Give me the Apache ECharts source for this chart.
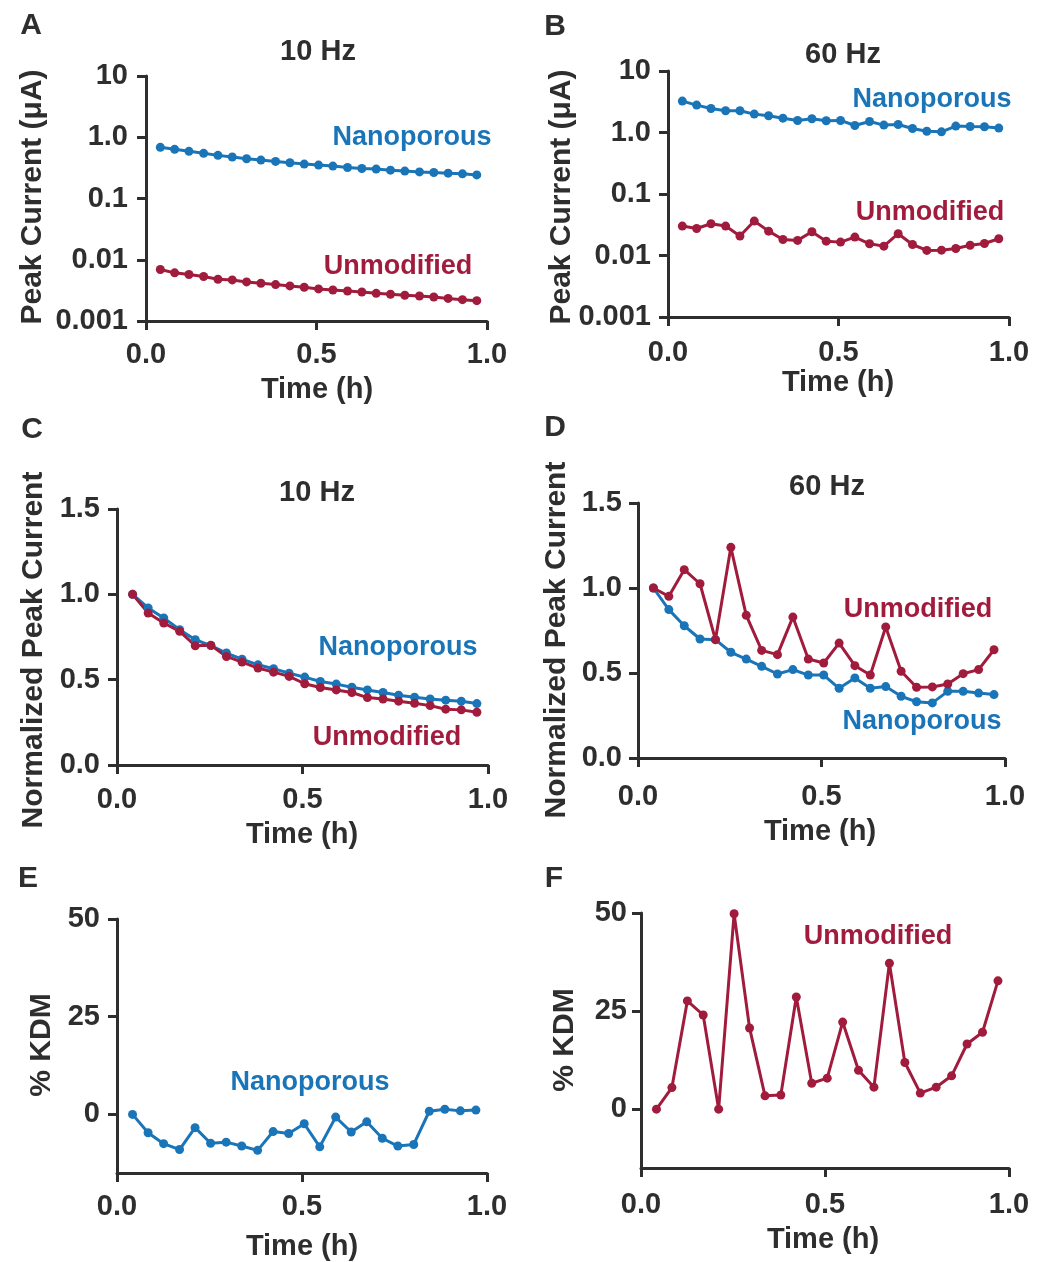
<!DOCTYPE html>
<html>
<head>
<meta charset="utf-8">
<script src="https://cdn.jsdelivr.net/npm/echarts@6/dist/echarts.min.js"></script>
<style>
html,body{margin:0;padding:0;background:#fff;}
#chart{width:1055px;height:1262px;}
</style>
</head>
<body>
<div id="chart"></div>
<script>
// ---- data ----
const time = [0.042,0.084,0.126,0.169,0.211,0.253,0.295,0.337,0.380,0.422,0.464,0.506,0.548,0.591,0.633,0.675,0.717,0.759,0.802,0.844,0.886,0.928,0.970];
const aNano  = [0.685,0.635,0.589,0.546,0.506,0.475,0.446,0.424,0.403,0.383,0.365,0.351,0.338,0.321,0.309,0.302,0.290,0.280,0.272,0.266,0.259,0.253,0.243];
const aUnmod = [0.00694,0.00611,0.00574,0.00532,0.00481,0.00469,0.00435,0.00413,0.00393,0.00374,0.00356,0.00334,0.00321,0.00309,0.00298,0.00283,0.00273,0.00263,0.00256,0.00247,0.00234,0.00223,0.00215];
const bNano  = [3.24,2.79,2.46,2.26,2.26,1.99,1.87,1.71,1.57,1.67,1.55,1.57,1.30,1.51,1.32,1.35,1.16,1.05,1.025,1.27,1.25,1.24,1.18];
const bUnmod = [0.0301,0.0275,0.0328,0.0301,0.0207,0.0363,0.0249,0.0182,0.0176,0.0243,0.0171,0.0165,0.0199,0.0155,0.0142,0.0226,0.0151,0.0121,0.0122,0.0130,0.0147,0.0157,0.0187];
const cNano  = [1.0,0.920,0.861,0.793,0.734,0.700,0.656,0.620,0.587,0.564,0.538,0.515,0.489,0.474,0.456,0.440,0.425,0.409,0.397,0.387,0.380,0.374,0.360];
const cUnmod = [1.0,0.890,0.832,0.783,0.699,0.701,0.636,0.603,0.568,0.544,0.519,0.476,0.454,0.440,0.425,0.395,0.387,0.374,0.362,0.348,0.327,0.323,0.309];
const dNano  = [1.0,0.873,0.778,0.700,0.696,0.622,0.582,0.539,0.494,0.520,0.488,0.488,0.410,0.471,0.410,0.420,0.363,0.331,0.324,0.392,0.392,0.382,0.373];
const dUnmod = [1.000,0.951,1.108,1.025,0.696,1.239,0.839,0.633,0.608,0.829,0.582,0.559,0.676,0.543,0.488,0.771,0.510,0.416,0.418,0.435,0.496,0.520,0.637];
const eNano  = [0,-4.7,-7.5,-9.0,-3.4,-7.4,-7.1,-8.1,-9.2,-4.4,-4.9,-2.4,-8.3,-0.7,-4.5,-1.9,-6.1,-8.1,-7.7,0.8,1.3,0.9,1.1];
const fUnmod = [0,5.5,27.6,24.0,0,49.8,20.7,3.4,3.6,28.6,6.6,7.9,22.2,9.9,5.6,37.2,11.9,4.1,5.6,8.5,16.6,19.6,32.7];

const logTickLabels = ['0.001','0.01','0.1','1.0','10'];
const kdmTicks = [0, 25, 50];

// ---- style ----
const BLUE = '#1a74b8';
const RED = '#a11b3d';
const INK = '#2e2e2e';
const FONT = '"Liberation Sans", Arial, Helvetica, sans-serif';

const grids = [
  {left:146, top:76,  width:341, height:245},  // A
  {left:668, top:71,  width:341, height:246},  // B
  {left:117, top:509, width:371, height:256},  // C
  {left:638, top:503, width:367, height:255},  // D
  {left:117, top:919, width:370, height:254},  // E
  {left:641, top:913, width:368, height:255}   // F
];
const xMargins = [19, 21, 20, 24, 19, 22];
const yMargins = [18, 17, 17, 16, 17, 14];

const axisLineStyle = {show:true, onZero:false, lineStyle:{color:INK, width:3}};
const axisTickStyle = {show:true, length:9, lineStyle:{color:INK, width:3}};
const labelStyle = {color:INK, fontSize:29, fontWeight:'bold', fontFamily:FONT};

const xAxes = grids.map((g,i)=>({
  type:'value', gridIndex:i, min:0, max:1, interval:0.5,
  axisLine:axisLineStyle, axisTick:axisTickStyle, splitLine:{show:false},
  axisLabel:Object.assign({margin:xMargins[i], formatter:v=>v.toFixed(1)}, labelStyle)
}));

function logLabel(v){
  const e = Math.round(Math.log10(v));
  return logTickLabels[e + 3];
}

const yAxes = [0,1,2,3,4,5].map(i=>{
  const base = {gridIndex:i, axisLine:axisLineStyle, axisTick:axisTickStyle, splitLine:{show:false}};
  if (i < 2) {
    return Object.assign(base, {type:'log', logBase:10, min:0.001, max:10,
      axisLabel:Object.assign({margin:yMargins[i], formatter:logLabel}, labelStyle)});
  } else if (i < 4) {
    return Object.assign(base, {type:'value', min:0, max:1.5, interval:0.5,
      axisLabel:Object.assign({margin:yMargins[i], formatter:v=>v.toFixed(1)}, labelStyle)});
  } else {
    return Object.assign(base, {type:'value', min:-15, max:50,
      axisTick:Object.assign({customValues:kdmTicks}, axisTickStyle),
      axisLabel:Object.assign({margin:yMargins[i], customValues:kdmTicks, formatter:v=>String(v)}, labelStyle)});
  }
});

function mk(idx, vals, color){
  return {
    type:'line', xAxisIndex:idx, yAxisIndex:idx,
    data: time.map((t,k)=>[t, vals[k]]),
    symbol:'circle', symbolSize:9, showSymbol:true,
    lineStyle:{color:color, width:3}, itemStyle:{color:color},
    emphasis:{disabled:true}, z:3
  };
}

const series = [
  mk(0, aNano, BLUE), mk(0, aUnmod, RED),
  mk(1, bNano, BLUE), mk(1, bUnmod, RED),
  mk(2, cNano, BLUE), mk(2, cUnmod, RED),
  mk(3, dNano, BLUE), mk(3, dUnmod, RED),
  mk(4, eNano, BLUE),
  mk(5, fUnmod, RED)
];

function txt(x, y, text, size, color, rot){
  return {type:'text', x:x, y:y, rotation:rot||0, silent:true,
    style:{text:text, fill:color, fontSize:size, fontWeight:'bold', fontFamily:FONT,
      align:'center', verticalAlign:'middle'}};
}
const R = Math.PI/2;
const graphics = [
  // panel letters
  txt(31, 26, 'A', 30, INK), txt(555, 27, 'B', 30, INK),
  txt(32, 430, 'C', 30, INK), txt(555, 428, 'D', 30, INK),
  txt(28, 879, 'E', 30, INK), txt(554, 879, 'F', 30, INK),
  // titles
  txt(318, 52, '10 Hz', 29, INK), txt(843, 55, '60 Hz', 29, INK),
  txt(317, 493, '10 Hz', 29, INK), txt(827, 487, '60 Hz', 29, INK),
  // y-axis names
  txt(33, 197, 'Peak Current (μA)', 30, INK, R),
  txt(562, 197, 'Peak Current (μA)', 30, INK, R),
  txt(34, 650, 'Normalized Peak Current', 30, INK, R),
  txt(557, 640, 'Normalized Peak Current', 30, INK, R),
  txt(42, 1045, '% KDM', 30, INK, R),
  txt(565, 1040, '% KDM', 30, INK, R),
  // x-axis names
  txt(317, 390, 'Time (h)', 29, INK), txt(838, 383, 'Time (h)', 29, INK),
  txt(302, 835, 'Time (h)', 29, INK), txt(820, 832, 'Time (h)', 29, INK),
  txt(302, 1247, 'Time (h)', 29, INK), txt(823, 1240, 'Time (h)', 29, INK),
  // series labels
  txt(412, 138, 'Nanoporous', 27, BLUE), txt(398, 267, 'Unmodified', 27, RED),
  txt(932, 100, 'Nanoporous', 27, BLUE), txt(930, 213, 'Unmodified', 27, RED),
  txt(398, 648, 'Nanoporous', 27, BLUE), txt(387, 738, 'Unmodified', 27, RED),
  txt(918, 610, 'Unmodified', 27, RED), txt(922, 722, 'Nanoporous', 27, BLUE),
  txt(310, 1083, 'Nanoporous', 27, BLUE),
  txt(878, 937, 'Unmodified', 27, RED)
];

const chart = echarts.init(document.getElementById('chart'), null, {renderer:'canvas'});
chart.setOption({
  animation:false,
  backgroundColor:'#ffffff',
  grid: grids.map(g=>Object.assign({containLabel:false, outerBoundsMode:'none'}, g)),
  xAxis: xAxes,
  yAxis: yAxes,
  series: series,
  graphic: graphics
});
</script>
</body>
</html>
